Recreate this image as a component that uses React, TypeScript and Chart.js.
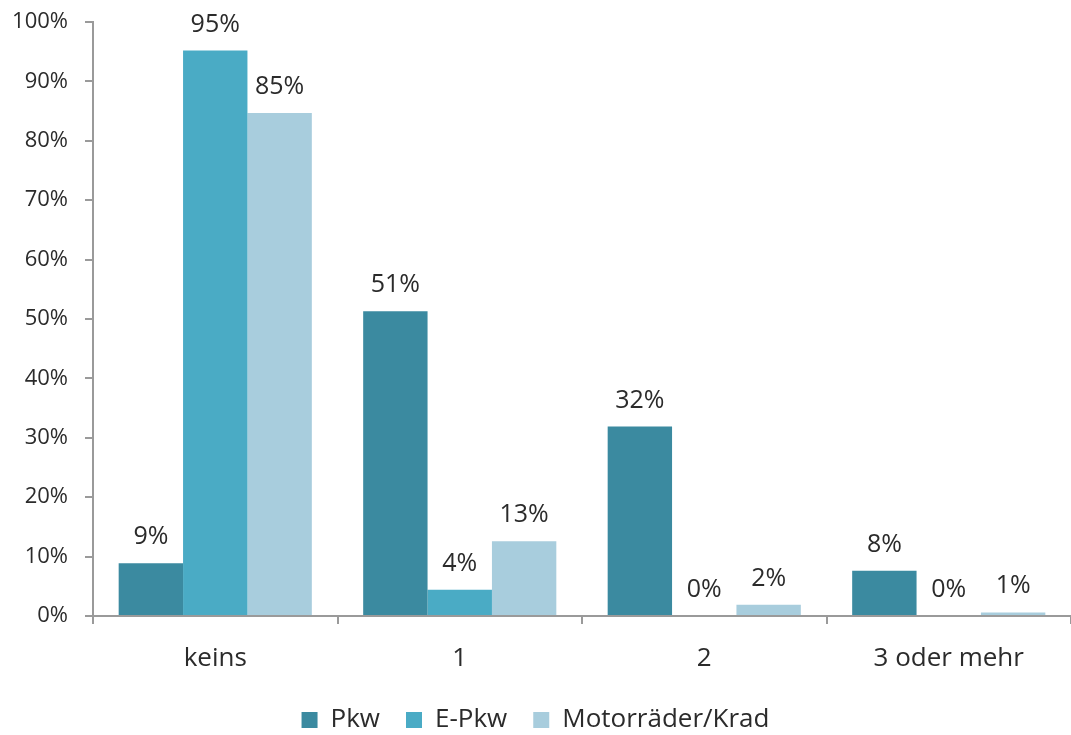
import React, { useEffect, useRef } from "react";
import { Chart, registerables } from "chart.js";

Chart.register(...registerables);

// Anzahl Fahrzeuge je Haushalt – Anteile in Prozent
const categories = ["keins", "1", "2", "3 oder mehr"];
const pkwValues = [8.9, 51.3, 31.9, 7.6];
const ePkwValues = [95.2, 4.4, 0.0, 0.0];
const motorradValues = [84.7, 12.6, 1.9, 0.6];
const seriesNames = ["Pkw", "E-Pkw", "Motorräder/Krad"];
const seriesColors = ["#3b8aa0", "#4aabc5", "#a8cddd"];
const yMin = 0;
const yMax = 100;
const yStep = 10;

const FONT = "'Open Sans', 'Noto Sans', sans-serif";
const TEXT = "#2b2b2b";
const AXIS = "#9a9a9a";

const pct = (v: number) => `${Math.round(v)}%`;

// draws the rounded percentage above every bar
const valueLabels = {
  id: "valueLabels",
  afterDatasetsDraw(chart: any) {
    const { ctx } = chart;
    ctx.save();
    ctx.font = `25px ${FONT}`;
    ctx.fillStyle = TEXT;
    ctx.textAlign = "center";
    ctx.textBaseline = "alphabetic";
    chart.data.datasets.forEach((ds: any, i: number) => {
      const meta = chart.getDatasetMeta(i);
      meta.data.forEach((bar: any, j: number) => {
        ctx.fillText(pct(ds.data[j]), bar.x, bar.y - 19);
      });
    });
    ctx.restore();
  },
};

export default function App() {
  const canvasRef = useRef<HTMLCanvasElement | null>(null);

  useEffect(() => {
    const canvas = canvasRef.current;
    if (!canvas) return;
    const chart = new Chart(canvas, {
      type: "bar",
      data: {
        labels: categories,
        datasets: [pkwValues, ePkwValues, motorradValues].map((data, i) => ({
          label: seriesNames[i],
          data,
          backgroundColor: seriesColors[i],
          borderWidth: 0,
          categoryPercentage: 0.79,
          barPercentage: 1.0,
        })),
      },
      options: {
        responsive: false,
        animation: false,
        layout: { padding: { top: 22, right: 0, bottom: -8, left: 0 } },
        plugins: {
          tooltip: { enabled: false },
          legend: {
            position: "bottom",
            labels: {
              font: { family: FONT, size: 26 },
              color: TEXT,
              boxWidth: 16,
              boxHeight: 16,
              padding: 26,
            },
          },
        },
        scales: {
          x: {
            grid: {
              display: true,
              drawOnChartArea: false,
              drawTicks: true,
              tickLength: 8,
              color: AXIS,
              lineWidth: 2,
            },
            border: { display: true, color: AXIS, width: 2 },
            ticks: {
              font: { family: FONT, size: 26 },
              color: TEXT,
              padding: 19,
              maxRotation: 0,
            },
            afterFit: (s: any) => {
              s.height = 65;
              s.paddingLeft = 0;
              s.paddingRight = 0;
            },
          },
          y: {
            min: yMin,
            max: yMax,
            grid: {
              display: true,
              drawOnChartArea: false,
              drawTicks: true,
              tickLength: 8,
              color: AXIS,
              lineWidth: 2,
            },
            border: { display: true, color: AXIS, width: 2 },
            ticks: {
              stepSize: yStep,
              font: { family: FONT, size: 22 },
              color: TEXT,
              padding: 17,
              callback: (v: any) => `${v}%`,
            },
            afterFit: (s: any) => {
              s.width = 93;
              s.paddingTop = 0;
              s.paddingBottom = 0;
            },
          },
        },
      },
      plugins: [valueLabels],
    });
    return () => chart.destroy();
  }, []);

  return (
    <div style={{ position: "fixed", left: 0, top: 0, width: 1071, height: 735, background: "#ffffff" }}>
      <canvas ref={canvasRef} width={1071} height={735} style={{ display: "block" }} />
    </div>
  );
}
